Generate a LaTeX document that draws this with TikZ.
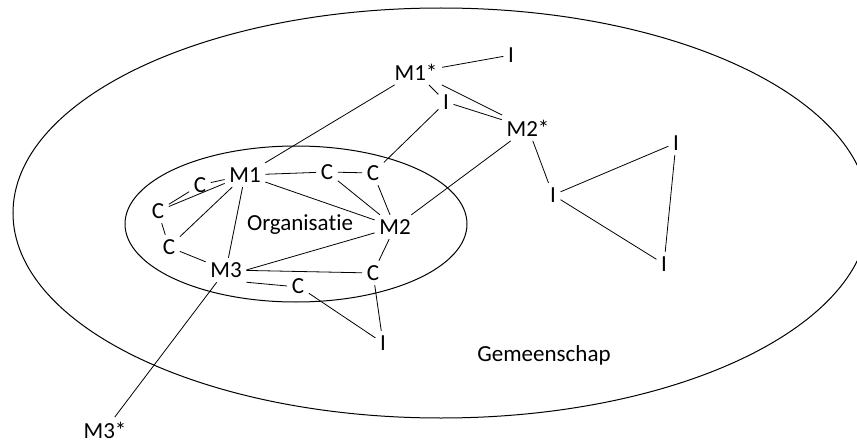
\documentclass[tikz,border=0pt]{standalone}
\usepackage{fontspec}
\setmainfont{Carlito}[Ligatures=NoCommon]
\begin{document}
\begin{tikzpicture}[x=1pt,y=-1pt,
  lbl/.style={inner sep=4.5pt,font=\fontsize{23}{26}\selectfont},
  link/.style={line width=0.8pt},
  ring/.style={line width=1pt}]
\useasboundingbox (0,0) rectangle (857,444);
\clip (0,0) rectangle (857,444);

% community and organisation
\draw[ring] (441,213) ellipse [x radius=428pt, y radius=205pt];
\draw[ring] (296,224) ellipse [x radius=171pt, y radius=78pt];

% labels
\node[lbl] (org) at (300,225) {Organisatie};
\node[lbl] (gem) at (544,355) {Gemeenschap};

% members and contacts
\node[lbl] (m1s) at (416,72) {M1*};
\node[lbl] (itop) at (511,55) {I};
\node[lbl] (i1) at (446,102) {I};
\node[lbl] (m2s) at (528,128) {M2*};
\node[lbl] (i2) at (553,195) {I};
\node[lbl] (i3) at (676,143) {I};
\node[lbl] (i4) at (664,264) {I};
\node[lbl] (m1) at (245,175) {M1};
\node[lbl] (c1) at (327,172) {C};
\node[lbl] (c2) at (373,173) {C};
\node[lbl] (c3) at (200,185) {C};
\node[lbl] (c4) at (158,211) {C};
\node[lbl] (c5) at (169,247) {C};
\node[lbl] (m2) at (395,227) {M2};
\node[lbl] (m3) at (226,270) {M3};
\node[lbl] (c6) at (373,273) {C};
\node[lbl] (c7) at (298,286) {C};
\node[lbl] (i5) at (383,343) {I};
\node[lbl] (m3s) at (105,430) {M3*};

% connections
\draw[link] (m1s) -- (itop);
\draw[link] (m1s) -- (i1);
\draw[link] (m1s) -- (m2s);
\draw[link] (i1) -- (m2s);
\draw[link] (m1s) -- (m1);
\draw[link] (i1) -- (c2);
\draw[link] (m2s) -- (m2);
\draw[link] (m2s) -- (i2);
\draw[link] (i2) -- (i3);
\draw[link] (i2) -- (i4);
\draw[link] (i3) -- (i4);
\draw[link] (m1) -- (c1);
\draw[link] (c1) -- (c2);
\draw[link] (c1) -- (m2);
\draw[link] (c2) -- (m2);
\draw[link] (m1) -- (m2);
\draw[link] (m1) -- (c3);
\draw[link] (m1) -- (c4);
\draw[link] (c3) -- (c4);
\draw[link] (m1) -- (c5);
\draw[link] (c4) -- (c5);
\draw[link] (m1) -- (m3);
\draw[link] (c5) -- (m3);
\draw[link] (m3.east) -- (m2);
\draw[link] (m3) -- (c6);
\draw[link] (m3.south east) -- (c7.west);
\draw[link] (m2) -- (c6);
\draw[link] (c7) -- (i5);
\draw[link] (c6) -- (i5);
\draw[link] (m3) -- (m3s);
\end{tikzpicture}
\end{document}
